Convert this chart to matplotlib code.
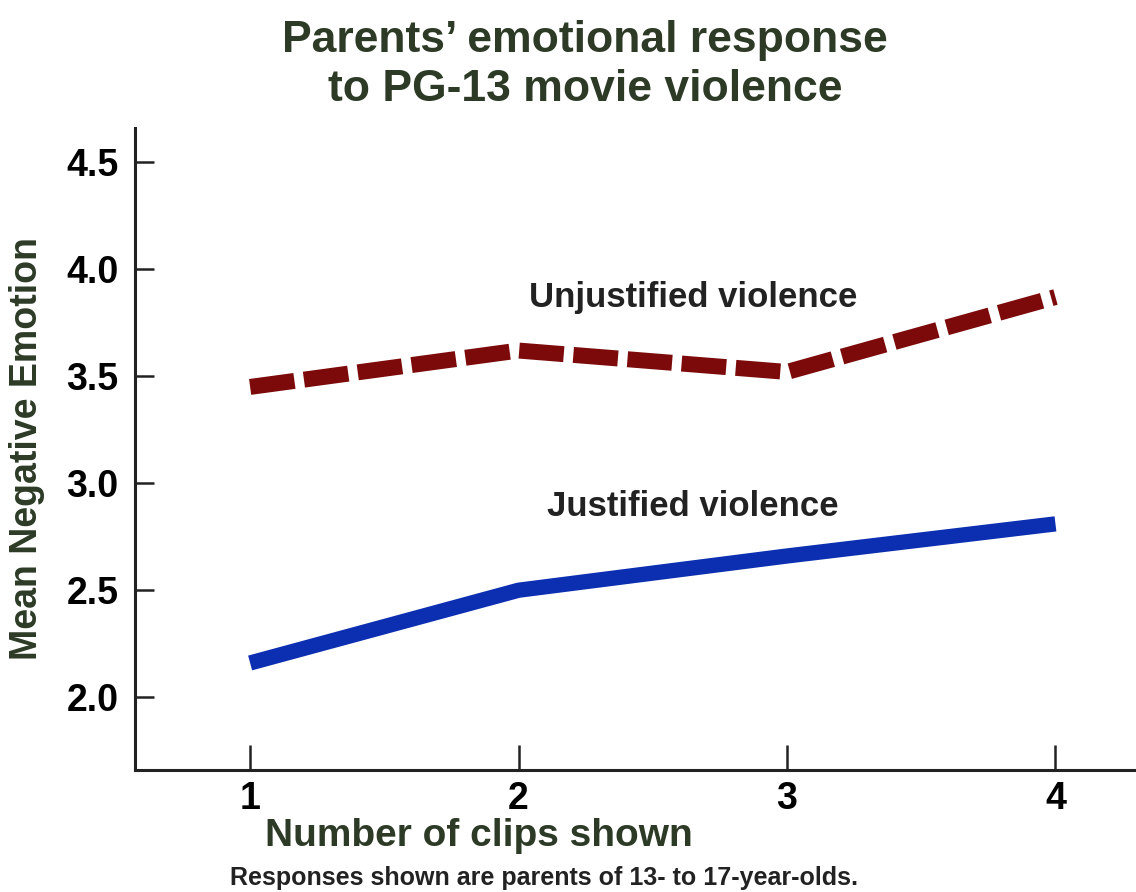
import matplotlib.pyplot as plt

plt.rcParams['font.family'] = ['Liberation Sans', 'DejaVu Sans']

# data
clips = [1, 2, 3, 4]
unjustified = [3.45, 3.62, 3.52, 3.87]
justified = [2.16, 2.50, 2.66, 2.81]
y_ticks = [2.0, 2.5, 3.0, 3.5, 4.0, 4.5]
y_tick_labels = ['2.0', '2.5', '3.0', '3.5', '4.0', '4.5']

green = '#2c3a26'
dark = '#222222'

fig = plt.figure(figsize=(11.36, 8.92), dpi=100)
ax = fig.add_axes([0.1188, 0.1368, 0.8812, 0.7197])

ax.plot(clips, unjustified, color='#7d0a0a', lw=11.5, dashes=(2.8, 0.6),
        solid_capstyle='butt', dash_capstyle='butt')
ax.plot(clips, justified, color='#0b2fb0', lw=11, solid_capstyle='butt')

ax.set_xlim(0.571, 4.30)
ax.set_ylim(1.66, 4.66)

ax.set_xticks(clips)
ax.set_xticklabels([str(c) for c in clips])
ax.set_yticks(y_ticks)
ax.set_yticklabels(y_tick_labels)

for side in ['top', 'right']:
    ax.spines[side].set_visible(False)
for side in ['left', 'bottom']:
    ax.spines[side].set_linewidth(2.2)
    ax.spines[side].set_color(dark)

ax.tick_params(axis='both', direction='in', width=1.8, color=dark,
               labelsize=27, labelcolor='black')
ax.tick_params(axis='y', length=14, pad=12)
ax.tick_params(axis='x', length=18, pad=8)
for lab in ax.get_xticklabels() + ax.get_yticklabels():
    lab.set_fontweight('bold')

ax.set_ylabel('Mean Negative Emotion', fontsize=27, fontweight='bold', color=green)
ax.yaxis.set_label_coords(-0.108, 0.5)
ax.set_xlabel('Number of clips shown', fontsize=28, fontweight='bold', color=green)
ax.xaxis.set_label_coords(0.344, -0.103)
ax.xaxis.label.set_va('center')
ax.yaxis.label.set_va('center')

ax.text(2.65, 3.87, 'Unjustified violence', fontsize=25, fontweight='bold',
        color=dark, ha='center', va='center')
ax.text(2.65, 2.89, 'Justified violence', fontsize=25, fontweight='bold',
        color=dark, ha='center', va='center')

fig.text(585 / 1136, 1 - 65 / 892, 'Parents\u2019 emotional response\nto PG-13 movie violence',
         fontsize=32, fontweight='bold', color=green, ha='center', va='center',
         linespacing=1.25)
fig.text(544 / 1136, 1 - 878 / 892, 'Responses shown are parents of 13- to 17-year-olds.',
         fontsize=18, fontweight='bold', color=dark, ha='center', va='center')

fig.savefig('out.png', dpi=100)
